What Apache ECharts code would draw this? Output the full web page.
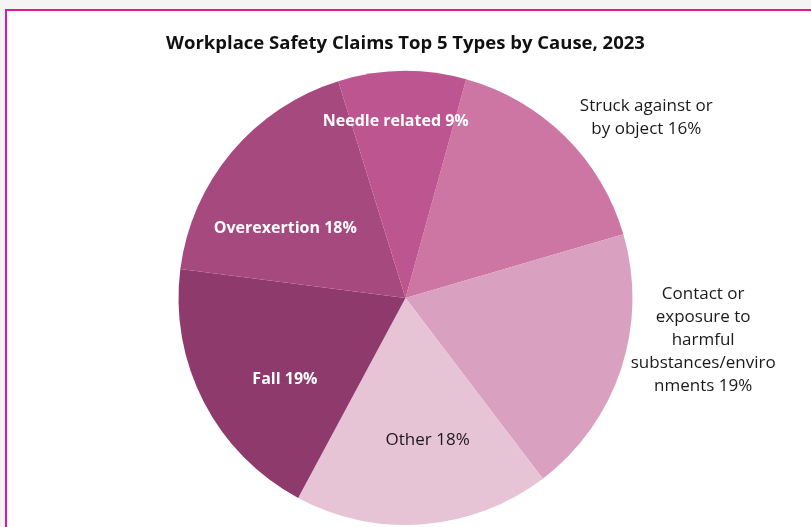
<!DOCTYPE html>
<html>
<head>
<meta charset="utf-8">
<script src="https://cdn.jsdelivr.net/npm/echarts@6/dist/echarts.min.js"></script>
<style>
    html, body { margin: 0; padding: 0; background: #f4f4f4; overflow: hidden; }
    .frame {
        position: absolute; left: 5px; top: 9px;
        width: 900px; height: 600px;
        background: #fff;
        border: 2px solid #e0179a;
    }
    #pie { position: absolute; left: 0; top: 0; width: 811px; height: 527px; }
</style>
</head>
<body>
<div class="frame"></div>
<div id="pie"></div>
<script>
    // 数据，顺时针从“Struck”开始
    const categories = [
        'Struck against or\nby object',
        'Contact or\nexposure to\nharmful\nsubstances/enviro\nnments',
        'Other',
        'Fall',
        'Overexertion',
        'Needle related'
    ];
    const shares = [16, 19, 18, 19, 18, 9];

    const colorList = ['#cd76a3', '#d9a1bf', '#e6c3d5', '#8e3a6c', '#a6497e', '#bd5590'];
    const textColor = ['#1a1a1a', '#1a1a1a', '#1a1a1a', '#fff', '#fff', '#fff'];
    const boldText = [false, false, false, true, true, true];
    // 标签相对默认 inside 位置的偏移
    const labelShift = [[159, -97], [187, 6], [13, 26], [-17, 28], [-31, 5], [-8, -60]];

    let myChart = echarts.init(document.getElementById('pie'));
    myChart.setOption({
        animation: false,
        title: {
            text: 'Workplace Safety Claims Top 5 Types by Cause, 2023',
            left: 'center',
            top: 29,
            textStyle: {
                fontFamily: 'Open Sans',
                fontSize: 18.5,
                fontWeight: 'bold',
                color: '#111'
            }
        },
        series: [{
            type: 'pie',
            center: ['50%', 298],
            radius: 227,
            startAngle: 74.5,
            clockwise: true,
            silent: true,
            label: {
                show: true,
                position: 'inside',
                fontFamily: 'Open Sans',
                fontSize: 17,
                lineHeight: 23,
                formatter: '{b} {c}%'
            },
            labelLine: { show: false },
            labelLayout: function (p) {
                const o = labelShift[p.dataIndex];
                return { dx: o[0], dy: o[1] };
            },
            itemStyle: { borderWidth: 0 },
            data: categories.map(function (name, i) {
                return {
                    name: name,
                    value: shares[i],
                    itemStyle: { color: colorList[i] },
                    label: {
                        color: textColor[i],
                        fontSize: boldText[i] ? 16 : 17,
                        fontWeight: boldText[i] ? 'bold' : 'normal'
                    }
                };
            })
        }]
    });
</script>
</body>
</html>
